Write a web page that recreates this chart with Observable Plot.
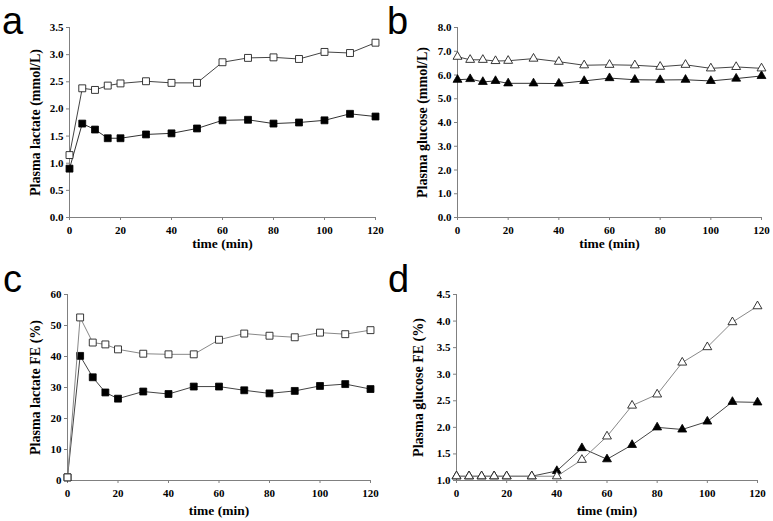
<!DOCTYPE html>
<html>
<head>
<meta charset="utf-8">
<script src="https://cdn.jsdelivr.net/npm/d3@7"></script>
<script src="https://cdn.jsdelivr.net/npm/@observablehq/plot@0.6"></script>
<style>
  html, body { margin: 0; padding: 0; background: white; }
  #root { position: relative; width: 773px; height: 521px; overflow: hidden; background: white; }
  .panel { position: absolute; }
  .tag { position: absolute; font-family: "Liberation Sans", Arial, sans-serif; font-size: 38px; line-height: 1.1; color: black; }
</style>
</head>
<body>
<div id="root"></div>
<script>
// ---- data ----
const time = [0, 5, 10, 15, 20, 30, 40, 50, 60, 70, 80, 90, 100, 110, 120];
const xTicks = [0, 20, 40, 60, 80, 100, 120];

const lactateOpen   = [1.15, 2.38, 2.35, 2.43, 2.47, 2.51, 2.48, 2.48, 2.86, 2.94, 2.95, 2.92, 3.05, 3.03, 3.22];
const lactateFilled = [0.90, 1.73, 1.62, 1.46, 1.46, 1.53, 1.55, 1.64, 1.79, 1.80, 1.73, 1.75, 1.79, 1.91, 1.86];

const glucoseOpen   = [6.77, 6.64, 6.64, 6.59, 6.60, 6.69, 6.56, 6.41, 6.43, 6.41, 6.35, 6.43, 6.28, 6.34, 6.28];
const glucoseFilled = [5.80, 5.83, 5.71, 5.75, 5.65, 5.65, 5.64, 5.75, 5.87, 5.80, 5.79, 5.80, 5.75, 5.85, 5.96];

const lactateFEOpen   = [1.0, 52.6, 44.5, 43.9, 42.3, 40.9, 40.7, 40.7, 45.4, 47.4, 46.7, 46.2, 47.7, 47.2, 48.5];
const lactateFEFilled = [1.0, 40.2, 33.3, 28.4, 26.4, 28.7, 27.9, 30.3, 30.3, 29.1, 28.1, 28.9, 30.5, 31.1, 29.5];

const glucoseFEOpen   = [1.08, 1.08, 1.08, 1.08, 1.08, 1.08, 1.08, 1.39, 1.83, 2.41, 2.62, 3.22, 3.51, 3.98, 4.28];
const glucoseFEFilled = [1.08, 1.08, 1.08, 1.08, 1.08, 1.08, 1.18, 1.61, 1.40, 1.67, 2.00, 1.96, 2.11, 2.48, 2.47];

const ticksA = [0, 0.5, 1, 1.5, 2, 2.5, 3, 3.5];
const ticksB = [0, 1, 2, 3, 4, 5, 6, 7, 8];
const ticksC = [0, 10, 20, 30, 40, 50, 60];
const ticksD = [1, 1.5, 2, 2.5, 3, 3.5, 4, 4.5];

const panelTags = ["a", "b", "c", "d"];
const yTitles = ["Plasma lactate (mmol/L)", "Plasma glucose (mmol/L)", "Plasma lactate FE (%)", "Plasma glucose FE (%)"];
const xTitle = "time (min)";

// ---- drawing ----
const root = document.getElementById("root");

function rows(vals) { return time.map((t, i) => ({t, v: vals[i]})); }

function panel(cfg) {
  const open = rows(cfg.open), filled = rows(cfg.filled);
  const plot = Plot.plot({
    width: cfg.width, height: cfg.height,
    marginLeft: cfg.ml, marginRight: cfg.mr, marginTop: cfg.mt, marginBottom: cfg.mb,
    style: {background: "transparent", fontFamily: "'Liberation Serif', 'Times New Roman', serif", fontSize: "11px", fontWeight: "bold", color: "black", overflow: "visible"},
    x: {domain: [0, 120], axis: null},
    y: {domain: cfg.yDomain, axis: null},
    marks: [
      Plot.ruleX([0], {stroke: "#808080", strokeWidth: 1}),
      Plot.ruleY([cfg.yDomain[0]], {stroke: "#808080", strokeWidth: 1}),
      Plot.axisX({ticks: xTicks, tickSize: 3, tickPadding: 6, label: null, stroke: "#808080", fill: "black", tickFormat: d3.format("d")}),
      Plot.axisY({ticks: cfg.yTicks, tickSize: 3, tickPadding: 3, label: null, stroke: "#808080", fill: "black", tickFormat: cfg.yFormat}),
      Plot.line(filled, {x: "t", y: "v", stroke: cfg.filledLine, strokeWidth: 1}),
      Plot.dot(filled, {x: "t", y: "v", symbol: cfg.symbol, r: cfg.r, fill: "black", stroke: "black", strokeWidth: 0.8}),
      Plot.line(open, {x: "t", y: "v", stroke: cfg.openLine, strokeWidth: 1}),
      Plot.dot(open, {x: "t", y: "v", symbol: cfg.symbol, r: cfg.r, fill: "white", stroke: "#222", strokeWidth: 0.9}),
      Plot.text([cfg.yTitle], {text: d => d, frameAnchor: "left", textAnchor: "middle", rotate: -90, dx: cfg.ytDx, fontSize: 14, fontWeight: "bold", fill: "black", lineAnchor: "middle"}),
      Plot.text([xTitle], {text: d => d, frameAnchor: "bottom", textAnchor: "middle", dy: cfg.xtDy, fontSize: 13.5, fontWeight: "bold", fill: "black", lineAnchor: "middle"})
    ]
  });
  plot.classList.add("panel");
  plot.style.left = cfg.left + "px";
  plot.style.top = cfg.top + "px";
  root.appendChild(plot);
  const tag = document.createElement("div");
  tag.className = "tag";
  tag.textContent = cfg.tag;
  tag.style.left = cfg.tagX + "px";
  tag.style.top = cfg.tagY + "px";
  root.appendChild(tag);
}

const f1 = d3.format(".1f");

panel({left: 0, top: 0, width: 390, height: 250, ml: 69, mr: 15, mt: 27, mb: 33,
  yDomain: [0, 3.5], yTicks: ticksA, yFormat: f1, open: lactateOpen, filled: lactateFilled,
  symbol: "square", r: 3.9, openLine: "#444", filledLine: "#333", yTitle: yTitles[0], ytDx: -34, xtDy: 26,
  tag: panelTags[0], tagX: 2, tagY: 1});

panel({left: 390, top: 0, width: 383, height: 250, ml: 67, mr: 12, mt: 27, mb: 33,
  yDomain: [0, 8], yTicks: ticksB, yFormat: f1, open: glucoseOpen, filled: glucoseFilled,
  symbol: "triangle", r: 3.3, openLine: "#444", filledLine: "#333", yTitle: yTitles[1], ytDx: -35, xtDy: 26,
  tag: panelTags[1], tagX: 387, tagY: 1});

panel({left: 0, top: 250, width: 390, height: 271, ml: 67, mr: 20, mt: 44, mb: 41,
  yDomain: [0, 60], yTicks: ticksC, yFormat: d3.format("d"), open: lactateFEOpen, filled: lactateFEFilled,
  symbol: "square", r: 3.9, openLine: "#888", filledLine: "#444", yTitle: yTitles[2], ytDx: -32, xtDy: 30,
  tag: panelTags[2], tagX: 3, tagY: 259});

panel({left: 390, top: 250, width: 383, height: 271, ml: 66, mr: 16, mt: 44, mb: 41,
  yDomain: [1, 4.5], yTicks: ticksD, yFormat: f1, open: glucoseFEOpen, filled: glucoseFEFilled,
  symbol: "triangle", r: 3.3, openLine: "#888", filledLine: "#444", yTitle: yTitles[3], ytDx: -38, xtDy: 30,
  tag: panelTags[3], tagX: 388, tagY: 259});
</script>
</body>
</html>
